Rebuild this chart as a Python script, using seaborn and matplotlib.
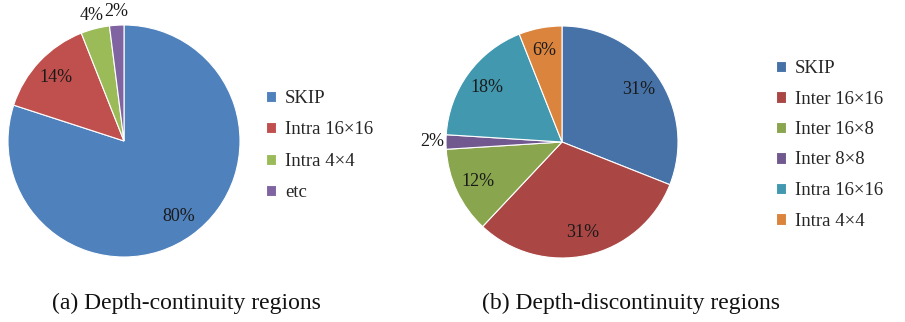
import matplotlib
matplotlib.use("Agg")
import matplotlib.pyplot as plt
import numpy as np
import seaborn as sns

sns.set_theme(style="white")
plt.rcParams["font.family"] = ["Liberation Serif", "DejaVu Serif"]

# Mode distribution in depth-continuity regions
cont_labels = ["SKIP", "Intra 16×16", "Intra 4×4", "etc"]
cont_values = [80, 14, 4, 2]
cont_colors = ["#4F81BD", "#C0504D", "#9BBB59", "#8064A2"]

# Mode distribution in depth-discontinuity regions
disc_labels = ["SKIP", "Inter 16×16", "Inter 16×8", "Inter 8×8", "Intra 16×16", "Intra 4×4"]
disc_values = [31, 31, 12, 2, 18, 6]
disc_colors = ["#4672A8", "#AA4643", "#89A54E", "#71588F", "#4198AF", "#DB843D"]

captions = ["(a) Depth-continuity regions", "(b) Depth-discontinuity regions"]

W, H = 905, 322
fig = plt.figure(figsize=(W / 100, H / 100), dpi=100)


def px_axes(cx, cy, r):
    return fig.add_axes([(cx - r) / W, (H - cy - r) / H, 2 * r / W, 2 * r / H])


def draw_pie(ax, values, colors):
    wedges, _ = ax.pie(values, colors=colors, startangle=90, counterclock=False,
                       wedgeprops=dict(edgecolor="white", linewidth=0.8))
    ax.set_xlim(-1, 1)
    ax.set_ylim(-1, 1)
    ax.set_aspect("equal")
    for w, v in zip(wedges, values):
        ang = np.deg2rad((w.theta1 + w.theta2) / 2)
        dist = 0.8 if v >= 5 else 1.12
        ax.text(dist * np.cos(ang), dist * np.sin(ang), f"{v}%",
                ha="center", va="center", fontsize=13, color="#1a1a1a")
    return wedges


ax1 = px_axes(124, 141, 116)
w1 = draw_pie(ax1, cont_values, cont_colors)
ax2 = px_axes(562, 142, 116)
w2 = draw_pie(ax2, disc_values, disc_colors)

leg_kw = dict(frameon=False, fontsize=13.5, handlelength=0.55, handleheight=0.55,
              handletextpad=0.45, borderaxespad=0, borderpad=0)
fig.legend(w1, cont_labels, loc="upper left", labelspacing=0.77,
           bbox_to_anchor=(266 / W, 1 - 90 / H), **leg_kw)
fig.legend(w2, disc_labels, loc="upper left", labelspacing=0.72,
           bbox_to_anchor=(776 / W, 1 - 60 / H), **leg_kw)

fig.text(186 / W, 1 - 303 / H, captions[0], ha="center", va="center", fontsize=17, color="#111111")
fig.text(631 / W, 1 - 303 / H, captions[1], ha="center", va="center", fontsize=17, color="#111111")

fig.savefig("out.png", dpi=100, facecolor="white")
